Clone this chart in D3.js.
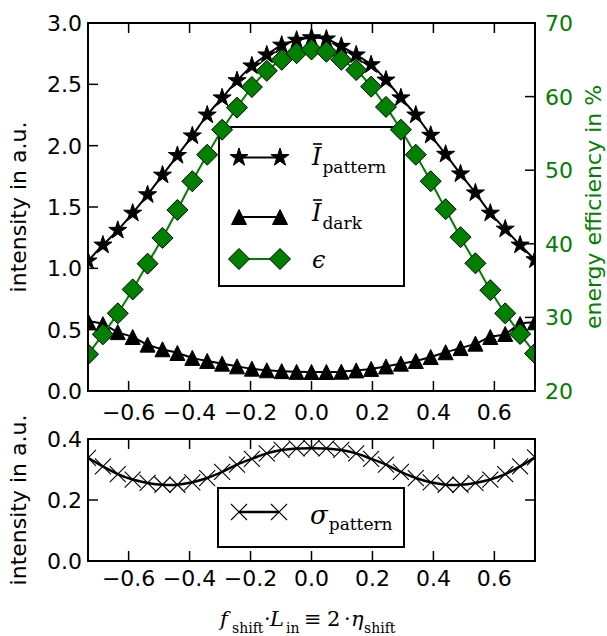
<!DOCTYPE html>
<html>
<head>
<meta charset="utf-8">
<script src="https://cdn.jsdelivr.net/npm/d3@7/dist/d3.min.js"></script>
<style>
  html, body { margin: 0; padding: 0; background: #fff; }
  svg { display: block; }
  .tick-label { font-family: "DejaVu Sans", sans-serif; font-size: 22px; }
  .axis-label { font-family: "DejaVu Sans", sans-serif; font-size: 22px; }
  .math { font-family: "DejaVu Serif", serif; }
</style>
</head>
<body>
<svg id="chart" width="607" height="636"></svg>
<script>
// Shift positions (normalised), shared by both panels
const shift = [
  -0.7333, -0.6844, -0.6356, -0.5867, -0.5378, -0.4889, -0.4400, -0.3911,
  -0.3422, -0.2933, -0.2444, -0.1956, -0.1467, -0.0978, -0.0489, 0.0000,
   0.0489,  0.0978,  0.1467,  0.1956,  0.2444,  0.2933,  0.3422,  0.3911,
   0.4400,  0.4889,  0.5378,  0.5867,  0.6356,  0.6844,  0.7333
];
// Mean intensity of the pattern region (a.u.)
const patternMean = [
  1.06, 1.19, 1.31, 1.45, 1.60, 1.76, 1.92, 2.08,
  2.25, 2.39, 2.53, 2.65, 2.74, 2.82, 2.86, 2.88,
  2.87, 2.81, 2.74, 2.66, 2.535, 2.39, 2.25, 2.085,
  1.93, 1.77, 1.615, 1.45, 1.32, 1.19, 1.07
];
// Mean intensity of the dark region (a.u.)
const darkMean = [
  0.57, 0.545, 0.48, 0.44, 0.378, 0.34, 0.31, 0.27,
  0.245, 0.223, 0.201, 0.182, 0.169, 0.162, 0.156, 0.155,
  0.155, 0.157, 0.168, 0.18, 0.20, 0.223, 0.245, 0.277,
  0.316, 0.35, 0.386, 0.44, 0.465, 0.546, 0.56
];
// Energy efficiency (%)
const efficiency = [
  25.0, 27.7, 30.55, 33.8, 37.3, 40.8, 44.6, 48.5,
  52.1, 55.5, 58.5, 61.3, 63.5, 65.0, 65.9, 66.4,
  66.1, 65.0, 63.6, 61.35, 58.6, 55.5, 52.1, 48.5,
  44.7, 40.9, 37.35, 33.7, 30.55, 27.75, 25.1
];
// Standard deviation of the pattern intensity (a.u.)
const patternStd = [
  0.338, 0.31, 0.285, 0.267, 0.256, 0.25, 0.25, 0.258,
  0.272, 0.292, 0.316, 0.335, 0.353, 0.364, 0.369, 0.37,
  0.369, 0.364, 0.353, 0.335, 0.316, 0.292, 0.272, 0.258,
  0.25, 0.25, 0.256, 0.267, 0.285, 0.31, 0.34
];

const xTicks = [-0.6, -0.4, -0.2, 0.0, 0.2, 0.4, 0.6];
const topLeftTicks = [0.0, 0.5, 1.0, 1.5, 2.0, 2.5, 3.0];
const topRightTicks = [20, 30, 40, 50, 60, 70];
const bottomTicks = [0.0, 0.2, 0.4];

const GREEN = "#008000";
const svg = d3.select("#chart");

// Panel frames
const L = 88, R = 535;
const top1 = 23, bot1 = 391;
const top2 = 439, bot2 = 561;

const x = d3.scaleLinear().domain([-0.7333, 0.7333]).range([L, R]);
const yL = d3.scaleLinear().domain([0, 3]).range([bot1, top1]);
const yR = d3.scaleLinear().domain([20, 70]).range([bot1, top1]);
const yS = d3.scaleLinear().domain([0, 0.4]).range([bot2, top2]);

const fmt1 = d => d3.format(".1f")(d).replace("-", "\u2212");

// Marker shapes
function starPath(R0) {
  const r0 = R0 * 0.382;
  const pts = [];
  for (let k = 0; k < 10; k++) {
    const a = -Math.PI / 2 + k * Math.PI / 5;
    const rr = k % 2 === 0 ? R0 : r0;
    pts.push([rr * Math.cos(a), rr * Math.sin(a)]);
  }
  return "M" + pts.map(p => p.join(",")).join("L") + "Z";
}
const triPath = h => `M0,${-h}L${h},${h}L${-h},${h}Z`;
const diamondPath = h => `M0,${-h}L${h},0L0,${h}L${-h},0Z`;
const crossPath = h => `M${-h},${-h}L${h},${h}M${-h},${h}L${h},${-h}`;

const STAR = starPath(9.5), TRI = triPath(7.5), DIA = diamondPath(10.5), CROSS = crossPath(8);

// Clip regions
const defs = svg.append("defs");
defs.append("clipPath").attr("id", "clipTop")
  .append("rect").attr("x", L).attr("y", top1).attr("width", R - L).attr("height", bot1 - top1);
defs.append("clipPath").attr("id", "clipBot")
  .append("rect").attr("x", L).attr("y", top2).attr("width", R - L).attr("height", bot2 - top2);

function drawSeries(g, ys, yScale, opt) {
  const line = d3.line().x((d, i) => x(shift[i])).y(d => yScale(d)).curve(d3.curveCatmullRom);
  g.append("path").datum(ys).attr("d", line)
    .attr("fill", "none").attr("stroke", opt.lineColor).attr("stroke-width", opt.lineWidth);
  g.selectAll(null).data(ys).enter().append("path")
    .attr("d", opt.shape)
    .attr("transform", (d, i) => `translate(${x(shift[i])},${yScale(d)})`)
    .attr("fill", opt.fill).attr("stroke", opt.stroke).attr("stroke-width", opt.strokeWidth);
}

// ---------- Top panel ----------
const gTop = svg.append("g").attr("clip-path", "url(#clipTop)");
drawSeries(gTop, patternMean, yL, { lineColor: "#000", lineWidth: 2, shape: STAR, fill: "#000", stroke: "#000", strokeWidth: 1 });
drawSeries(gTop, darkMean, yL, { lineColor: "#000", lineWidth: 2, shape: TRI, fill: "#000", stroke: "#000", strokeWidth: 1 });

// Legend (upper panel)
const lg = svg.append("g");
lg.append("rect").attr("x", 219).attr("y", 127).attr("width", 185).attr("height", 159)
  .attr("fill", "#fff").attr("stroke", "#000").attr("stroke-width", 2);
const legendRows = [
  { y: 157.5, shape: STAR, fill: "#000", line: "#000" },
  { y: 217, shape: TRI, fill: "#000", line: "#000" },
  { y: 259, shape: DIA, fill: GREEN, line: GREEN }
];
legendRows.forEach(r => {
  lg.append("line").attr("x1", 239).attr("x2", 280).attr("y1", r.y).attr("y2", r.y)
    .attr("stroke", r.line).attr("stroke-width", 2);
  [239, 280].forEach(px => lg.append("path").attr("d", r.shape)
    .attr("transform", `translate(${px},${r.y})`)
    .attr("fill", r.fill).attr("stroke", "#000").attr("stroke-width", 1));
});
function barI(g, x0, base, sub) {
  const t = g.append("text").attr("class", "math").attr("x", x0).attr("y", base);
  t.append("tspan").attr("font-style", "italic").attr("font-size", 24).text("I");
  t.append("tspan").attr("font-size", 17).attr("dy", 8).attr("dx", 1).text(sub);
  g.append("line").attr("x1", x0 + 1).attr("x2", x0 + 10).attr("y1", base - 21).attr("y2", base - 21)
    .attr("stroke", "#000").attr("stroke-width", 1.6);
}
barI(lg, 312, 165, "pattern");
barI(lg, 312, 221, "dark");
lg.append("text").attr("class", "math").attr("x", 312).attr("y", 268)
  .attr("font-size", 24).attr("font-style", "italic").text("\u03f5");

// Efficiency on the secondary axis, drawn over the legend
const gTop2 = svg.append("g").attr("clip-path", "url(#clipTop)");
drawSeries(gTop2, efficiency, yR, { lineColor: GREEN, lineWidth: 2, shape: DIA, fill: GREEN, stroke: "#000", strokeWidth: 1 });

// ---------- Bottom panel ----------
const gBot = svg.append("g").attr("clip-path", "url(#clipBot)");
drawSeries(gBot, patternStd, yS, { lineColor: "#000", lineWidth: 2.5, shape: CROSS, fill: "none", stroke: "#000", strokeWidth: 1.1 });

const lg2 = svg.append("g");
lg2.append("rect").attr("x", 218).attr("y", 488).attr("width", 186).attr("height", 59)
  .attr("fill", "#fff").attr("stroke", "#000").attr("stroke-width", 2);
lg2.append("line").attr("x1", 239).attr("x2", 279).attr("y1", 512).attr("y2", 512)
  .attr("stroke", "#000").attr("stroke-width", 2.5);
[239, 279].forEach(px => lg2.append("path").attr("d", CROSS)
  .attr("transform", `translate(${px},512)`).attr("fill", "none").attr("stroke", "#000").attr("stroke-width", 1.1));
{
  const t = lg2.append("text").attr("class", "math").attr("x", 310).attr("y", 524);
  t.append("tspan").attr("font-style", "italic").attr("font-size", 26).text("\u03c3");
  t.append("tspan").attr("font-size", 17).attr("dy", 6).attr("dx", 1).text("pattern");
}

// ---------- Axes: frames, ticks, labels ----------
const TL = 10;
function frame(t, b) {
  svg.append("rect").attr("x", L).attr("y", t).attr("width", R - L).attr("height", b - t)
    .attr("fill", "none").attr("stroke", "#000").attr("stroke-width", 2);
}
function xTickMarks(t, b, labelY) {
  const g = svg.append("g");
  xTicks.forEach(v => {
    const px = x(v);
    g.append("line").attr("x1", px).attr("x2", px).attr("y1", b).attr("y2", b - TL).attr("stroke", "#000").attr("stroke-width", 1.5);
    g.append("line").attr("x1", px).attr("x2", px).attr("y1", t).attr("y2", t + TL).attr("stroke", "#000").attr("stroke-width", 1.5);
    g.append("text").attr("class", "tick-label").attr("x", px).attr("y", labelY)
      .attr("text-anchor", "middle").text(fmt1(v));
  });
}
function yTickMarks(scale, ticks, side, color, fmt) {
  const g = svg.append("g");
  ticks.forEach(v => {
    const py = scale(v);
    if (side === "left") {
      g.append("line").attr("x1", L).attr("x2", L + TL).attr("y1", py).attr("y2", py).attr("stroke", "#000").attr("stroke-width", 1.5);
      g.append("text").attr("class", "tick-label").attr("x", 82).attr("y", py + 8)
        .attr("text-anchor", "end").attr("fill", color).text(fmt(v));
    } else {
      g.append("line").attr("x1", R).attr("x2", R - TL).attr("y1", py).attr("y2", py).attr("stroke", "#000").attr("stroke-width", 1.5);
      if (fmt) g.append("text").attr("class", "tick-label").attr("x", 545).attr("y", py + 8)
        .attr("text-anchor", "start").attr("fill", color).text(fmt(v));
    }
  });
}

frame(top1, bot1);
xTickMarks(top1, bot1, 420);
yTickMarks(yL, topLeftTicks, "left", "#000", fmt1);
yTickMarks(yR, topRightTicks, "right", GREEN, d => String(d));

frame(top2, bot2);
xTickMarks(top2, bot2, 586);
yTickMarks(yS, bottomTicks, "left", "#000", fmt1);
yTickMarks(yS, bottomTicks, "right", "#000", null);

// Axis titles
svg.append("text").attr("class", "axis-label").attr("transform", `translate(26,${(top1 + bot1) / 2}) rotate(-90)`)
  .attr("text-anchor", "middle").text("intensity in a.u.");
svg.append("text").attr("class", "axis-label").attr("transform", `translate(26,${(top2 + bot2) / 2}) rotate(-90)`)
  .attr("text-anchor", "middle").text("intensity in a.u.");
svg.append("text").attr("class", "axis-label").attr("transform", `translate(601,${(top1 + bot1) / 2}) rotate(-90)`)
  .attr("text-anchor", "middle").attr("fill", GREEN).text("energy efficiency in %");

// x-axis title: f_shift · L_in ≡ 2 · η_shift
{
  const base = 626, sub = 633;
  const g = svg.append("g").attr("class", "math");
  const piece = (px, py, size, txt, italic) => g.append("text").attr("x", px).attr("y", py)
    .attr("font-size", size).attr("font-style", italic ? "italic" : "normal").text(txt);
  piece(220, base, 21, "f", true);
  piece(232, sub, 14, "shift", false);
  piece(264, base, 21, "\u00b7", false);
  piece(270, base, 21, "L", true);
  piece(286, sub, 14, "in", false);
  piece(304, base, 21, "\u2261", false);
  piece(327, base, 21, "2", false);
  piece(344, base, 21, "\u00b7", false);
  piece(351, base, 21, "\u03b7", true);
  piece(364, sub, 14, "shift", false);
}
</script>
</body>
</html>
